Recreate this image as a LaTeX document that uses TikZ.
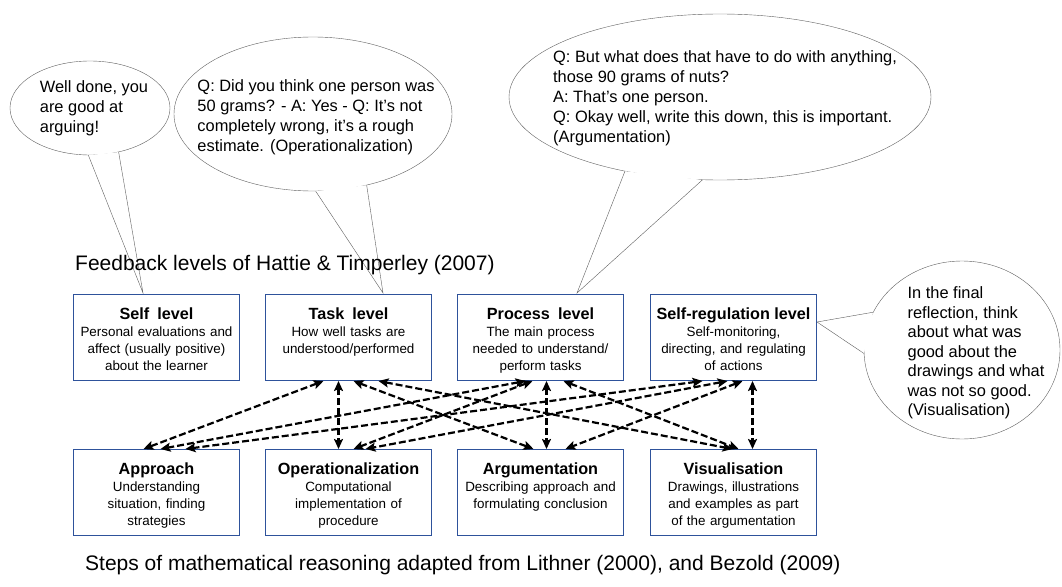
\documentclass[tikz,border=0pt]{standalone}
\usepackage{fontspec}
\setmainfont{Liberation Sans}
\usetikzlibrary{arrows.meta,shapes.geometric}
\definecolor{boxblue}{RGB}{46,82,155}
\definecolor{bubblegray}{RGB}{95,95,95}
\newcommand{\lvlhead}[1]{{\fontsize{16.2}{17}\selectfont\bfseries #1}}

\tikzset{
  level/.style={draw=boxblue,line width=1pt,anchor=north west,inner sep=0pt,text width=166pt,align=center,
                text height=25pt,text depth=61pt,font=\fontsize{13.4}{17}\selectfont},
  link/.style={line width=2.2pt,dash pattern=on 7pt off 3pt,<->,>={Stealth[length=10pt,width=9pt,inset=2pt]}},
  bubble/.style={draw=bubblegray,ellipse,inner sep=0pt},
  saying/.style={align=left,inner sep=0pt,font=\fontsize{16.4}{20}\selectfont},
  tail/.style={draw=bubblegray,fill=white},
  caption/.style={anchor=west,inner sep=0pt,font=\fontsize{21}{24}\selectfont}
}

\begin{document}
\begin{tikzpicture}[x=1pt,y=-1pt]
\useasboundingbox (0,0) rectangle (1062,586);

% speech bubbles
\node[bubble,minimum width=160pt,minimum height=94pt] (well) at (90,108) {};
\coordinate (wellTip) at (143,293);
\filldraw[tail] (well.268) -- (wellTip) -- (well.303);
\node[saying] (wellTxt) at (94,108) {Well done, you\\are good at\\arguing!};

\node[bubble,minimum width=278pt,minimum height=154pt] (gram) at (313,114) {};
\coordinate (gramTip) at (383,293);
\filldraw[tail] (gram.272) -- (gramTip) -- (gram.307);
\node[saying] (gramTxt) at (316,117) {Q: Did you think one person was\\50 grams? - A: Yes - Q: It's not\\completely wrong, it's a rough\\estimate. (Operationalization)};

\node[bubble,minimum width=422pt,minimum height=166pt] (nuts) at (720,97) {};
\coordinate (nutsTip) at (577,293);
\filldraw[tail] (nuts.218) -- (nutsTip) -- (nuts.258);
\node[saying] (nutsTxt) at (725,98) {Q: But what does that have to do with anything,\\those 90 grams of nuts?\\A: That's one person.\\Q: Okay well, write this down, this is important.\\(Argumentation)};

\node[bubble,minimum width=196pt,minimum height=178pt] (final) at (962,350) {};
\coordinate (finalTip) at (817,322);
\filldraw[tail] (final.157) -- (finalTip) -- (final.182);
\node[saying,font=\fontsize{16.4}{19.5}\selectfont] (finalTxt) at (976,353) {In the final\\reflection, think\\about what was\\good about the\\drawings and what\\was not so good.\\(Visualisation)};

% captions
\node[caption] (fbTitle) at (75,265) {Feedback levels of Hattie \& Timperley (2007)};
\node[caption] (stTitle) at (85,565) {Steps of mathematical reasoning adapted from Lithner (2000), and Bezold (2009)};

% feedback levels
\node[level] (self) at (73,294) {\lvlhead{Self\enspace level}\\Personal evaluations and\\affect (usually positive)\\about the learner};
\node[level] (task) at (265,294) {\lvlhead{Task\enspace level}\\How well tasks are\\understood/performed};
\node[level] (proc) at (457,294) {\lvlhead{Process\enspace level}\\The main process\\needed to understand/\\perform tasks};
\node[level] (sreg) at (650,294) {\lvlhead{Self-regulation level}\\Self-monitoring,\\directing, and regulating\\of actions};

% reasoning steps
\node[level] (appr) at (73,449) {\lvlhead{Approach}\\Understanding\\situation, finding\\strategies};
\node[level] (oper) at (265,449) {\lvlhead{Operationalization}\\Computational\\implementation of\\procedure};
\node[level] (argu) at (457,449) {\lvlhead{Argumentation}\\Describing approach and\\formulating conclusion};
\node[level] (visu) at (650,449) {\lvlhead{Visualisation}\\Drawings, illustrations\\and examples as part\\of the argumentation};

% links
\draw[link] ([xshift=-25pt]task.south) -- ([xshift=-13pt]appr.north);
\draw[link] ([xshift=-10pt]task.south) -- ([xshift=-10pt]oper.north);
\draw[link] ([xshift=5pt]task.south) -- ([xshift=-7pt]argu.north);
\draw[link] ([xshift=30pt]task.south) -- ([xshift=-1pt]visu.north);
\draw[link] ([xshift=-15pt]proc.south) -- ([xshift=4pt]appr.north);
\draw[link] ([xshift=-8pt]proc.south) -- ([xshift=5pt]oper.north);
\draw[link] ([xshift=6pt]proc.south) -- ([xshift=6pt]argu.north);
\draw[link] ([xshift=23pt]proc.south) -- ([xshift=5pt]visu.north);
\draw[link] ([xshift=-31pt]sreg.south) -- ([xshift=29pt]appr.north);
\draw[link] ([xshift=-6pt]sreg.south) -- ([xshift=17pt]oper.north);
\draw[link] ([xshift=9pt]sreg.south) -- ([xshift=25pt]argu.north);
\draw[link] ([xshift=19pt]sreg.south) -- ([xshift=19pt]visu.north);
\end{tikzpicture}
\end{document}
